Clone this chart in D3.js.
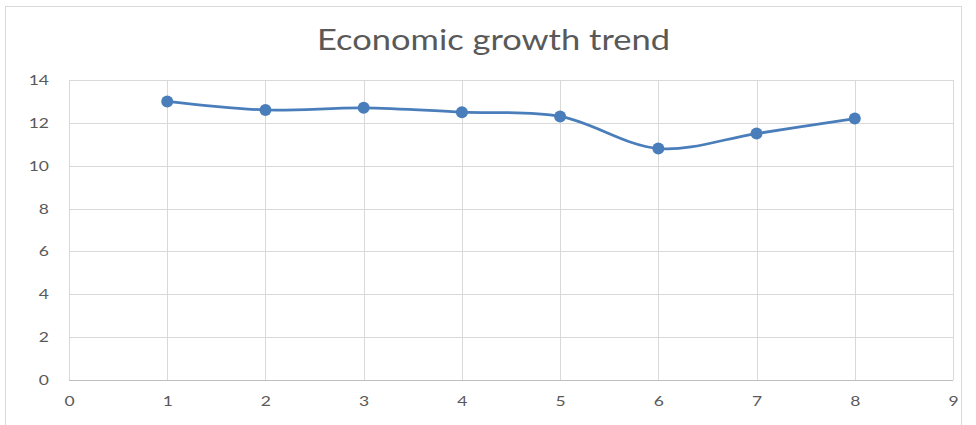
<!DOCTYPE html>
<html><head><meta charset="utf-8">
<script src="https://cdn.jsdelivr.net/npm/d3@7"></script>
<style>html,body{margin:0;padding:0;background:#fff;}svg{display:block;}</style>
</head><body>
<script>
const title = "Economic growth trend";
const xValues = [1, 2, 3, 4, 5, 6, 7, 8];
const yValues = [13, 12.6, 12.7, 12.5, 12.3, 10.8, 11.5, 12.2];
const xTicks = [0, 1, 2, 3, 4, 5, 6, 7, 8, 9];
const yTicks = [0, 2, 4, 6, 8, 10, 12, 14];

const W = 976, H = 425;
const svg = d3.select("body").append("svg").attr("width", W).attr("height", H);
svg.append("rect").attr("x", 5.5).attr("y", 6.5).attr("width", 956).attr("height", 430)
  .attr("fill", "#fff").attr("stroke", "#d9d9d9");

const x = d3.scaleLinear().domain([0, 9]).range([69, 953]);
const y = d3.scaleLinear().domain([0, 14]).range([380, 80]);
const font = "Lato, 'Open Sans', sans-serif";
const stretch = 1.25;

svg.append("text").attr("x", 493.5).attr("y", 50).attr("text-anchor", "middle")
  .attr("font-family", font).attr("font-size", 28).attr("fill", "#595959")
  .attr("textLength", 353).attr("lengthAdjust", "spacingAndGlyphs").text(title);

// grid
svg.append("g").selectAll("line").data(yTicks.filter(d => d > 0)).join("line")
  .attr("x1", x(0)).attr("x2", x(9)).attr("y1", d => Math.round(y(d)) + 0.5).attr("y2", d => Math.round(y(d)) + 0.5)
  .attr("stroke", "#d9d9d9");
svg.append("g").selectAll("line").data(xTicks).join("line")
  .attr("x1", d => Math.round(x(d)) + 0.5).attr("x2", d => Math.round(x(d)) + 0.5)
  .attr("y1", y(14)).attr("y2", y(0))
  .attr("stroke", "#d9d9d9");
svg.append("line").attr("x1", x(0)).attr("x2", x(9)).attr("y1", y(0) + 0.5).attr("y2", y(0) + 0.5)
  .attr("stroke", "#bfbfbf");

// axes labels
const yAxis = d3.axisLeft(y).tickValues(yTicks).tickSize(0).tickPadding(16);
const gy = svg.append("g").attr("transform", `translate(${x(0)},0)`).call(yAxis);
gy.select(".domain").remove();
gy.selectAll("text").attr("font-family", font).attr("font-size", 14).attr("fill", "#595959")
  .attr("transform", `scale(${stretch},1)`);

const xAxis = d3.axisBottom(x).tickValues(xTicks).tickSize(0).tickPadding(16);
const gx = svg.append("g").attr("transform", `translate(0,${y(0)})`).call(xAxis);
gx.select(".domain").remove();
gx.selectAll("text").attr("font-family", font).attr("font-size", 14).attr("fill", "#595959")
  .attr("transform", `scale(${stretch},1)`);

const data = xValues.map((d, i) => [d, yValues[i]]);
const line = d3.line().x(d => x(d[0])).y(d => y(d[1])).curve(d3.curveCatmullRom.alpha(0.5));
svg.append("path").attr("d", line(data)).attr("fill", "none")
  .attr("stroke", "#4a7ebb").attr("stroke-width", 2.75);
svg.append("g").selectAll("circle").data(data).join("circle")
  .attr("cx", d => x(d[0])).attr("cy", d => y(d[1])).attr("r", 6)
  .attr("fill", "#4a7ebb");
</script>
</body></html>
